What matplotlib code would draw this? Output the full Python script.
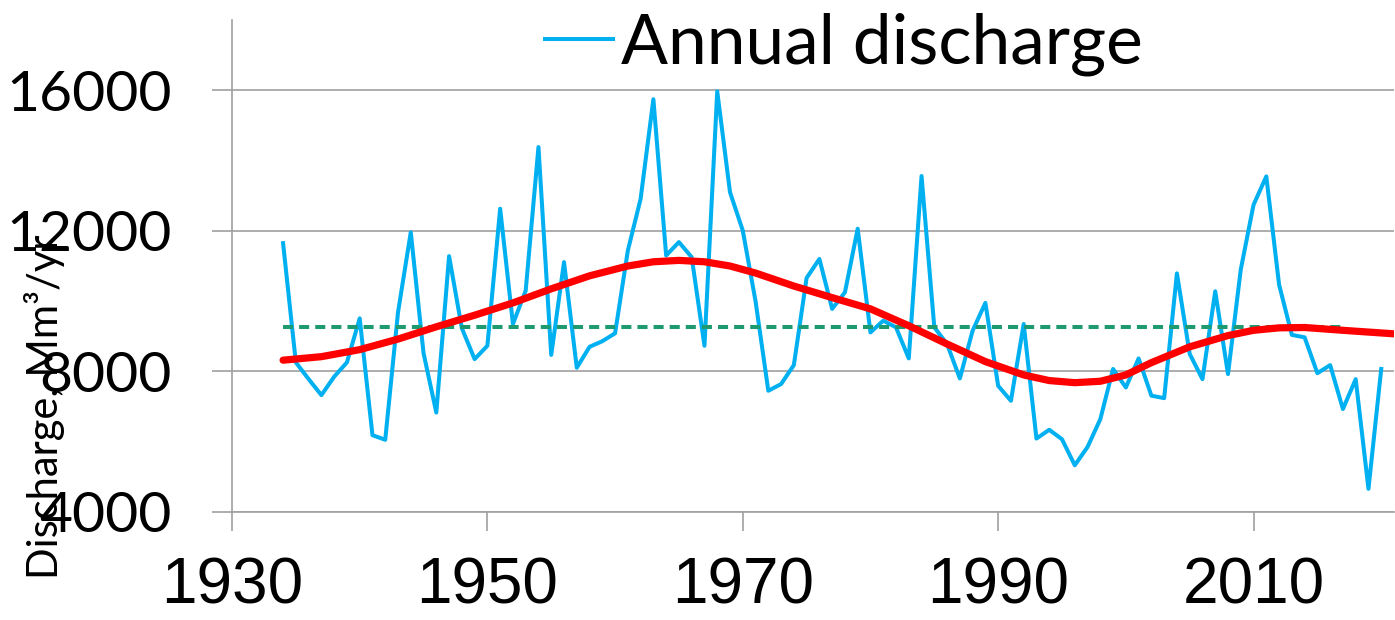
# Annual discharge with smoothed trend and long-term mean
import matplotlib.pyplot as plt

years = list(range(1934, 2021))
discharge = [
    11650, 8257, 7782, 7326, 7850, 8257, 9510, 6186, 6054, 9680,   # 1934-1943
    11960, 8520, 6830, 11280, 9230, 8350, 8730, 12630, 9350, 10300,  # 1944-1953
    14385, 8470, 11110, 8105, 8700, 8860, 9085, 11440, 12910, 15745,  # 1954-1963
    11300, 11680, 11250, 8730, 15970, 13100, 12010, 10000, 7450, 7640,  # 1964-1973
    8180, 10660, 11200, 9780, 10250, 12060, 9110, 9445, 9255, 8370,  # 1974-1983
    13560, 9255, 8780, 7800, 9160, 9950, 7590, 7165, 9350, 6090,   # 1984-1993
    6340, 6070, 5330, 5850, 6640, 8070, 7545, 8370, 7310, 7240,    # 1994-2003
    10790, 8500, 7780, 10280, 7925, 10900, 12740, 13550, 10470, 9040,  # 2004-2013
    8970, 7950, 8180, 6930, 7780, 4660, 8070,                       # 2014-2020
]

# smoothed trend
trend_years = [1934, 1937, 1940, 1943, 1946, 1949, 1952, 1955, 1958, 1961,
               1963, 1965, 1967, 1969, 1971, 1974, 1977, 1980, 1983, 1986,
               1989, 1992, 1994, 1996, 1998, 2000, 2002, 2005, 2008, 2010,
               2012, 2014, 2017, 2021]
trend = [8320, 8420, 8620, 8920, 9270, 9600, 9950, 10350, 10720, 11000,
         11120, 11160, 11120, 11000, 10800, 10430, 10100, 9780, 9300, 8780,
         8280, 7900, 7740, 7680, 7720, 7900, 8250, 8700, 9020, 9170,
         9240, 9250, 9170, 9070]

mean_years = [1934, 2017]
mean_value = 9270

fig = plt.figure(figsize=(13.95, 6.2), dpi=100)
ax = fig.add_axes([232 / 1395, 108 / 620, 1162 / 1395, 492 / 620])

grid_col = '#A0A0A0'
ax.set_xlim(1930, 2021)
ax.set_ylim(4000, 18000)
ax.set_yticks([4000, 8000, 12000, 16000])
ax.set_xticks([1930, 1950, 1970, 1990, 2010])
ax.grid(axis='y', color=grid_col, lw=1.2)
ax.set_axisbelow(True)

for s in ['top', 'right']:
    ax.spines[s].set_visible(False)
ax.spines['left'].set_color(grid_col)
ax.spines['bottom'].set_color(grid_col)
ax.spines['left'].set_linewidth(1.2)
ax.spines['bottom'].set_linewidth(1.2)

ax.tick_params(axis='y', length=14.4, width=1.2, color=grid_col, pad=29)
ax.tick_params(axis='x', length=13.7, width=1.2, color=grid_col, pad=18)
for lab in ax.get_yticklabels():
    lab.set_fontfamily('Lato')
    lab.set_fontsize(41)
for lab in ax.get_xticklabels():
    lab.set_fontfamily('Liberation Sans')
    lab.set_fontsize(46)

line, = ax.plot(years, discharge, color='#00B0F0', lw=2.9, label='Annual discharge')
mline, = ax.plot(mean_years, [mean_value, mean_value], color='#1E9A70', lw=2.9)
mline.set_dashes((2.5, 1.5))
ax.plot(trend_years, trend, color='#FF0000', lw=5.2, solid_capstyle='round')

fig.legend(handles=[line], loc='center left', bbox_to_anchor=(545 / 1395, 1 - 44 / 620),
           frameon=False, prop={'family': 'Lato', 'size': 50},
           handlelength=0.98, handletextpad=0.12, borderpad=0, borderaxespad=0)

fig.text(45 / 1395, 1 - 407 / 620, 'Discharge, Mm³/yr', rotation=90,
         ha='center', va='center', fontsize=30, family='Lato')

fig.savefig('out.png', dpi=100)
